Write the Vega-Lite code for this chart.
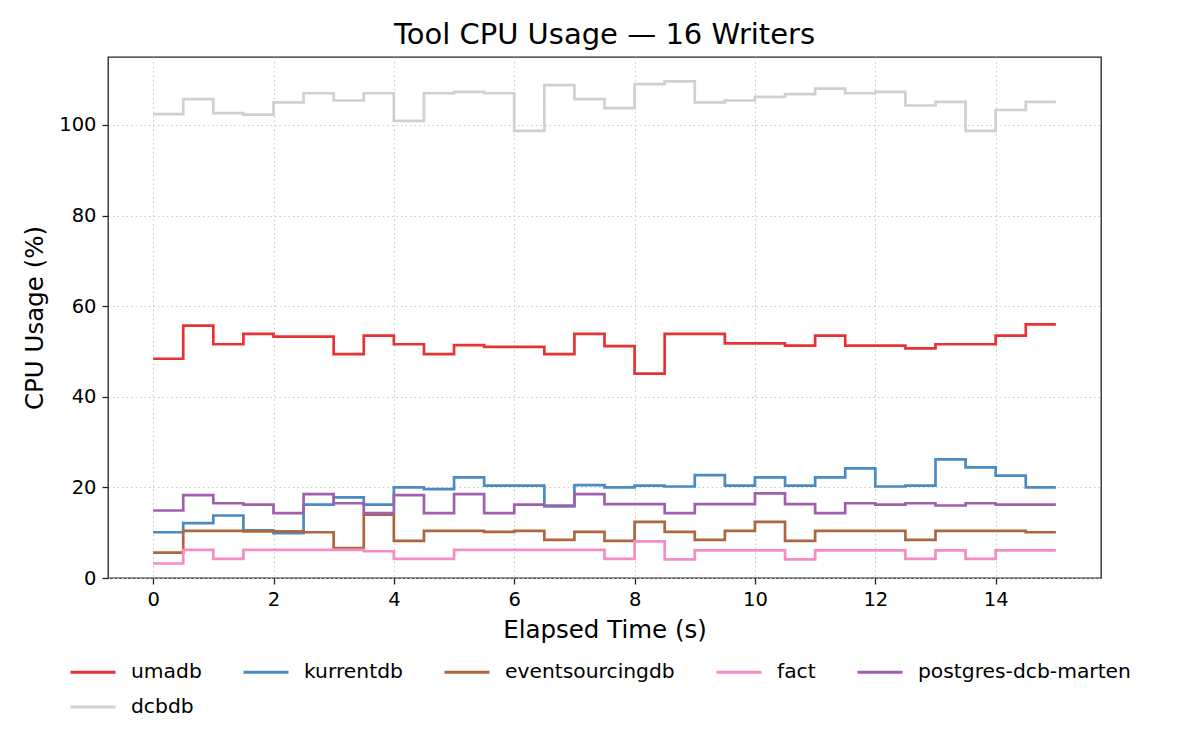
{
  "$schema": "https://vega.github.io/schema/vega-lite/v6.json",
  "width": 993,
  "height": 521,
  "autosize": "none",
  "padding": {"left": 108, "top": 57, "right": 99, "bottom": 172},
  "background": "white",
  "title": {
    "text": "Tool CPU Usage — 16 Writers",
    "font": "DejaVu Sans",
    "fontSize": 29,
    "fontWeight": "normal",
    "color": "#000",
    "offset": 7
  },
  "config": {
    "font": "DejaVu Sans",
    "view": {"stroke": "#222", "strokeWidth": 1.3},
    "axis": {
      "domain": false,
      "grid": true,
      "gridColor": "#c8c8c8",
      "gridDash": [1.5, 3],
      "gridWidth": 1,
      "tickColor": "#222",
      "tickSize": 6,
      "tickWidth": 1.3,
      "labelFont": "DejaVu Sans",
      "labelFontSize": 19.5,
      "labelColor": "#000",
      "labelPadding": 6,
      "titleFont": "DejaVu Sans",
      "titleFontSize": 24.5,
      "titleFontWeight": "normal",
      "titleColor": "#000"
    }
  },
  "data": {
    "values": [
      {"t": 0, "s": "umadb", "v": 48.4}, {"t": 0.5, "s": "umadb", "v": 55.7}, {"t": 1, "s": "umadb", "v": 51.6}, {"t": 1.5, "s": "umadb", "v": 53.9},
      {"t": 2, "s": "umadb", "v": 53.3}, {"t": 2.5, "s": "umadb", "v": 53.3}, {"t": 3, "s": "umadb", "v": 49.4}, {"t": 3.5, "s": "umadb", "v": 53.5},
      {"t": 4, "s": "umadb", "v": 51.6}, {"t": 4.5, "s": "umadb", "v": 49.4}, {"t": 5, "s": "umadb", "v": 51.4}, {"t": 5.5, "s": "umadb", "v": 51.0},
      {"t": 6, "s": "umadb", "v": 51.0}, {"t": 6.5, "s": "umadb", "v": 49.4}, {"t": 7, "s": "umadb", "v": 53.9}, {"t": 7.5, "s": "umadb", "v": 51.2},
      {"t": 8, "s": "umadb", "v": 45.1}, {"t": 8.5, "s": "umadb", "v": 53.9}, {"t": 9, "s": "umadb", "v": 53.9}, {"t": 9.5, "s": "umadb", "v": 51.8},
      {"t": 10, "s": "umadb", "v": 51.8}, {"t": 10.5, "s": "umadb", "v": 51.3}, {"t": 11, "s": "umadb", "v": 53.5}, {"t": 11.5, "s": "umadb", "v": 51.3},
      {"t": 12, "s": "umadb", "v": 51.3}, {"t": 12.5, "s": "umadb", "v": 50.7}, {"t": 13, "s": "umadb", "v": 51.6}, {"t": 13.5, "s": "umadb", "v": 51.6},
      {"t": 14, "s": "umadb", "v": 53.5}, {"t": 14.5, "s": "umadb", "v": 56.0}, {"t": 15, "s": "umadb", "v": 56.0},

      {"t": 0, "s": "kurrentdb", "v": 10.1}, {"t": 0.5, "s": "kurrentdb", "v": 12.1}, {"t": 1, "s": "kurrentdb", "v": 13.8}, {"t": 1.5, "s": "kurrentdb", "v": 10.5},
      {"t": 2, "s": "kurrentdb", "v": 9.9}, {"t": 2.5, "s": "kurrentdb", "v": 16.2}, {"t": 3, "s": "kurrentdb", "v": 17.8}, {"t": 3.5, "s": "kurrentdb", "v": 16.2},
      {"t": 4, "s": "kurrentdb", "v": 20.0}, {"t": 4.5, "s": "kurrentdb", "v": 19.6}, {"t": 5, "s": "kurrentdb", "v": 22.2}, {"t": 5.5, "s": "kurrentdb", "v": 20.4},
      {"t": 6, "s": "kurrentdb", "v": 20.4}, {"t": 6.5, "s": "kurrentdb", "v": 15.8}, {"t": 7, "s": "kurrentdb", "v": 20.5}, {"t": 7.5, "s": "kurrentdb", "v": 20.0},
      {"t": 8, "s": "kurrentdb", "v": 20.4}, {"t": 8.5, "s": "kurrentdb", "v": 20.2}, {"t": 9, "s": "kurrentdb", "v": 22.7}, {"t": 9.5, "s": "kurrentdb", "v": 20.4},
      {"t": 10, "s": "kurrentdb", "v": 22.2}, {"t": 10.5, "s": "kurrentdb", "v": 20.4}, {"t": 11, "s": "kurrentdb", "v": 22.2}, {"t": 11.5, "s": "kurrentdb", "v": 24.2},
      {"t": 12, "s": "kurrentdb", "v": 20.2}, {"t": 12.5, "s": "kurrentdb", "v": 20.4}, {"t": 13, "s": "kurrentdb", "v": 26.2}, {"t": 13.5, "s": "kurrentdb", "v": 24.4},
      {"t": 14, "s": "kurrentdb", "v": 22.6}, {"t": 14.5, "s": "kurrentdb", "v": 20.0}, {"t": 15, "s": "kurrentdb", "v": 20.0},

      {"t": 0, "s": "eventsourcingdb", "v": 5.6}, {"t": 0.5, "s": "eventsourcingdb", "v": 10.4}, {"t": 1, "s": "eventsourcingdb", "v": 10.4}, {"t": 1.5, "s": "eventsourcingdb", "v": 10.3},
      {"t": 2, "s": "eventsourcingdb", "v": 10.3}, {"t": 2.5, "s": "eventsourcingdb", "v": 10.1}, {"t": 3, "s": "eventsourcingdb", "v": 6.6}, {"t": 3.5, "s": "eventsourcingdb", "v": 14.0},
      {"t": 4, "s": "eventsourcingdb", "v": 8.2}, {"t": 4.5, "s": "eventsourcingdb", "v": 10.4}, {"t": 5, "s": "eventsourcingdb", "v": 10.4}, {"t": 5.5, "s": "eventsourcingdb", "v": 10.2},
      {"t": 6, "s": "eventsourcingdb", "v": 10.4}, {"t": 6.5, "s": "eventsourcingdb", "v": 8.4}, {"t": 7, "s": "eventsourcingdb", "v": 10.2}, {"t": 7.5, "s": "eventsourcingdb", "v": 8.2},
      {"t": 8, "s": "eventsourcingdb", "v": 12.4}, {"t": 8.5, "s": "eventsourcingdb", "v": 10.2}, {"t": 9, "s": "eventsourcingdb", "v": 8.4}, {"t": 9.5, "s": "eventsourcingdb", "v": 10.4},
      {"t": 10, "s": "eventsourcingdb", "v": 12.4}, {"t": 10.5, "s": "eventsourcingdb", "v": 8.2}, {"t": 11, "s": "eventsourcingdb", "v": 10.4}, {"t": 11.5, "s": "eventsourcingdb", "v": 10.4},
      {"t": 12, "s": "eventsourcingdb", "v": 10.4}, {"t": 12.5, "s": "eventsourcingdb", "v": 8.4}, {"t": 13, "s": "eventsourcingdb", "v": 10.4}, {"t": 13.5, "s": "eventsourcingdb", "v": 10.4},
      {"t": 14, "s": "eventsourcingdb", "v": 10.4}, {"t": 14.5, "s": "eventsourcingdb", "v": 10.1}, {"t": 15, "s": "eventsourcingdb", "v": 10.1},

      {"t": 0, "s": "fact", "v": 3.2}, {"t": 0.5, "s": "fact", "v": 6.2}, {"t": 1, "s": "fact", "v": 4.2}, {"t": 1.5, "s": "fact", "v": 6.2},
      {"t": 2, "s": "fact", "v": 6.2}, {"t": 2.5, "s": "fact", "v": 6.2}, {"t": 3, "s": "fact", "v": 6.2}, {"t": 3.5, "s": "fact", "v": 5.9},
      {"t": 4, "s": "fact", "v": 4.2}, {"t": 4.5, "s": "fact", "v": 4.2}, {"t": 5, "s": "fact", "v": 6.2}, {"t": 5.5, "s": "fact", "v": 6.2},
      {"t": 6, "s": "fact", "v": 6.2}, {"t": 6.5, "s": "fact", "v": 6.2}, {"t": 7, "s": "fact", "v": 6.2}, {"t": 7.5, "s": "fact", "v": 4.2},
      {"t": 8, "s": "fact", "v": 8.1}, {"t": 8.5, "s": "fact", "v": 4.1}, {"t": 9, "s": "fact", "v": 6.1}, {"t": 9.5, "s": "fact", "v": 6.1},
      {"t": 10, "s": "fact", "v": 6.1}, {"t": 10.5, "s": "fact", "v": 4.1}, {"t": 11, "s": "fact", "v": 6.1}, {"t": 11.5, "s": "fact", "v": 6.1},
      {"t": 12, "s": "fact", "v": 6.1}, {"t": 12.5, "s": "fact", "v": 4.2}, {"t": 13, "s": "fact", "v": 6.1}, {"t": 13.5, "s": "fact", "v": 4.2},
      {"t": 14, "s": "fact", "v": 6.1}, {"t": 14.5, "s": "fact", "v": 6.1}, {"t": 15, "s": "fact", "v": 6.1},

      {"t": 0, "s": "postgres-dcb-marten", "v": 14.9}, {"t": 0.5, "s": "postgres-dcb-marten", "v": 18.3}, {"t": 1, "s": "postgres-dcb-marten", "v": 16.5}, {"t": 1.5, "s": "postgres-dcb-marten", "v": 16.2},
      {"t": 2, "s": "postgres-dcb-marten", "v": 14.3}, {"t": 2.5, "s": "postgres-dcb-marten", "v": 18.5}, {"t": 3, "s": "postgres-dcb-marten", "v": 16.5}, {"t": 3.5, "s": "postgres-dcb-marten", "v": 14.3},
      {"t": 4, "s": "postgres-dcb-marten", "v": 18.3}, {"t": 4.5, "s": "postgres-dcb-marten", "v": 14.3}, {"t": 5, "s": "postgres-dcb-marten", "v": 18.5}, {"t": 5.5, "s": "postgres-dcb-marten", "v": 14.3},
      {"t": 6, "s": "postgres-dcb-marten", "v": 16.2}, {"t": 6.5, "s": "postgres-dcb-marten", "v": 16.0}, {"t": 7, "s": "postgres-dcb-marten", "v": 18.5}, {"t": 7.5, "s": "postgres-dcb-marten", "v": 16.3},
      {"t": 8, "s": "postgres-dcb-marten", "v": 16.3}, {"t": 8.5, "s": "postgres-dcb-marten", "v": 14.3}, {"t": 9, "s": "postgres-dcb-marten", "v": 16.3}, {"t": 9.5, "s": "postgres-dcb-marten", "v": 16.3},
      {"t": 10, "s": "postgres-dcb-marten", "v": 18.7}, {"t": 10.5, "s": "postgres-dcb-marten", "v": 16.3}, {"t": 11, "s": "postgres-dcb-marten", "v": 14.3}, {"t": 11.5, "s": "postgres-dcb-marten", "v": 16.5},
      {"t": 12, "s": "postgres-dcb-marten", "v": 16.2}, {"t": 12.5, "s": "postgres-dcb-marten", "v": 16.5}, {"t": 13, "s": "postgres-dcb-marten", "v": 16.0}, {"t": 13.5, "s": "postgres-dcb-marten", "v": 16.5},
      {"t": 14, "s": "postgres-dcb-marten", "v": 16.2}, {"t": 14.5, "s": "postgres-dcb-marten", "v": 16.2}, {"t": 15, "s": "postgres-dcb-marten", "v": 16.2},

      {"t": 0, "s": "dcbdb", "v": 102.4}, {"t": 0.5, "s": "dcbdb", "v": 105.7}, {"t": 1, "s": "dcbdb", "v": 102.6}, {"t": 1.5, "s": "dcbdb", "v": 102.3},
      {"t": 2, "s": "dcbdb", "v": 105.0}, {"t": 2.5, "s": "dcbdb", "v": 107.0}, {"t": 3, "s": "dcbdb", "v": 105.4}, {"t": 3.5, "s": "dcbdb", "v": 107.0},
      {"t": 4, "s": "dcbdb", "v": 100.9}, {"t": 4.5, "s": "dcbdb", "v": 107.0}, {"t": 5, "s": "dcbdb", "v": 107.3}, {"t": 5.5, "s": "dcbdb", "v": 107.0},
      {"t": 6, "s": "dcbdb", "v": 98.7}, {"t": 6.5, "s": "dcbdb", "v": 108.8}, {"t": 7, "s": "dcbdb", "v": 105.7}, {"t": 7.5, "s": "dcbdb", "v": 103.7},
      {"t": 8, "s": "dcbdb", "v": 109.0}, {"t": 8.5, "s": "dcbdb", "v": 109.6}, {"t": 9, "s": "dcbdb", "v": 105.0}, {"t": 9.5, "s": "dcbdb", "v": 105.4},
      {"t": 10, "s": "dcbdb", "v": 106.2}, {"t": 10.5, "s": "dcbdb", "v": 106.8}, {"t": 11, "s": "dcbdb", "v": 108.0}, {"t": 11.5, "s": "dcbdb", "v": 107.0},
      {"t": 12, "s": "dcbdb", "v": 107.3}, {"t": 12.5, "s": "dcbdb", "v": 104.3}, {"t": 13, "s": "dcbdb", "v": 105.1}, {"t": 13.5, "s": "dcbdb", "v": 98.7},
      {"t": 14, "s": "dcbdb", "v": 103.3}, {"t": 14.5, "s": "dcbdb", "v": 105.1}, {"t": 15, "s": "dcbdb", "v": 105.1}
    ]
  },
  "mark": {"type": "line", "interpolate": "step-after", "strokeWidth": 2.7},
  "encoding": {
    "x": {
      "field": "t",
      "type": "quantitative",
      "scale": {"domain": [-0.75, 15.75], "nice": false, "zero": false},
      "axis": {"title": "Elapsed Time (s)", "values": [0, 2, 4, 6, 8, 10, 12, 14], "titlePadding": 10}
    },
    "y": {
      "field": "v",
      "type": "quantitative",
      "scale": {"domain": [0, 115], "nice": false},
      "axis": {"title": "CPU Usage (%)", "values": [0, 20, 40, 60, 80, 100], "titlePadding": 11}
    },
    "color": {
      "field": "s",
      "type": "nominal",
      "sort": null,
      "scale": {
        "domain": ["umadb", "kurrentdb", "eventsourcingdb", "fact", "postgres-dcb-marten", "dcbdb"],
        "range": ["#e73234", "#4a8bc1", "#ad663d", "#f68bc5", "#a060ad", "#d0d0d0"]
      },
      "legend": {
        "title": null,
        "orient": "none",
        "legendX": -39,
        "legendY": 591,
        "direction": "horizontal",
        "columns": 5,
        "gridAlign": "each",
        "columnPadding": 35,
        "rowPadding": -11.5,
        "symbolType": "stroke",
        "symbolSize": 2025,
        "symbolStrokeWidth": 3,
        "labelOffset": 14,
        "labelLimit": 400,
        "labelFont": "DejaVu Sans",
        "labelFontSize": 20.3,
        "labelColor": "#000"
      }
    }
  }
}
